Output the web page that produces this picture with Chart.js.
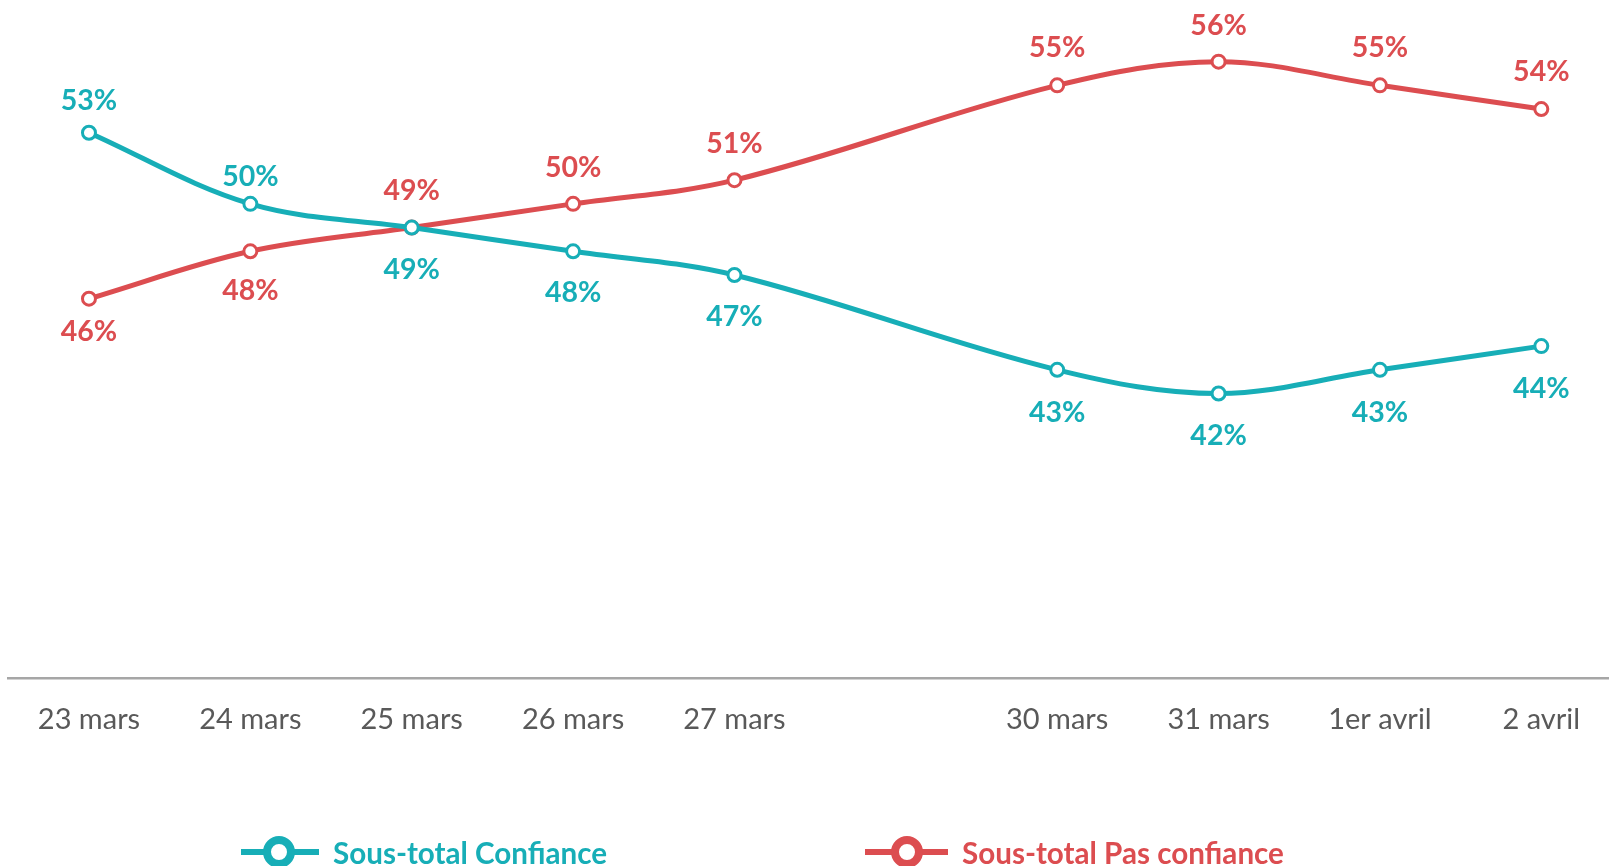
<!DOCTYPE html>
<html>
<head>
<meta charset="utf-8">
<script src="https://cdn.jsdelivr.net/npm/chart.js@4/dist/chart.umd.min.js"></script>
<style>
  body { margin: 0; overflow: hidden; background: #fff; }
</style>
</head>
<body>
<canvas id="chart" width="1622" height="866"></canvas>
<script>
// dates (28/29 mars = week-end, slot kept empty)
const labels = ['23 mars', '24 mars', '25 mars', '26 mars', '27 mars', '', '30 mars', '31 mars', '1er avril', '2 avril'];
const confiance = [53, 50, 49, 48, 47, null, 43, 42, 43, 44];
const pasConfiance = [46, 48, 49, 50, 51, null, 55, 56, 55, 54];

const TEAL = '#17AEB7';
const RED = '#DC4D50';

// décalage vertical des étiquettes (px, négatif = au-dessus)
const confianceLabelDy = [-33, -28, 41, 41, 41, 0, 42, 41, 42, 42];
const pasConfianceLabelDy = [32, 39, -38, -37, -37.5, 0, -38.5, -37, -38.5, -38];

const valueLabels = {
  id: 'valueLabels',
  afterDatasetsDraw(chart) {
    const ctx = chart.ctx;
    ctx.save();
    ctx.font = 'bold 28.5px Lato';
    ctx.textAlign = 'center';
    ctx.textBaseline = 'middle';
    chart.data.datasets.forEach((ds, di) => {
      chart.getDatasetMeta(di).data.forEach((pt, i) => {
        const v = ds.data[i];
        if (v == null) return;
        ctx.fillStyle = ds.borderColor;
        ctx.fillText(v + '%', pt.x, pt.y + ds.labelDy[i] + 1);
      });
    });
    ctx.restore();
  }
};

// légende en bas (trait + rond)
const bottomLegend = {
  id: 'bottomLegend',
  afterDraw(chart) {
    const ctx = chart.ctx;
    const items = [
      { x0: 241, x1: 319, cx: 279, tx: 333 },
      { x0: 865, x1: 948, cx: 907, tx: 962 }
    ];
    const y = 852;
    ctx.save();
    chart.data.datasets.forEach((ds, i) => {
      const it = items[i];
      ctx.strokeStyle = ds.borderColor;
      ctx.lineWidth = 6;
      ctx.beginPath();
      ctx.moveTo(it.x0, y);
      ctx.lineTo(it.x1, y);
      ctx.stroke();
      ctx.beginPath();
      ctx.arc(it.cx, y, 12, 0, Math.PI * 2);
      ctx.fillStyle = '#fff';
      ctx.fill();
      ctx.lineWidth = 8;
      ctx.stroke();
      ctx.font = 'bold 29.6px Lato';
      ctx.textBaseline = 'alphabetic';
      ctx.fillStyle = ds.borderColor;
      ctx.fillText(ds.label, it.tx, 864);
    });
    ctx.restore();
  }
};

new Chart(document.getElementById('chart'), {
  type: 'line',
  data: {
    labels,
    datasets: [
      {
        label: 'Sous-total Confiance',
        data: confiance,
        labelDy: confianceLabelDy,
        borderColor: TEAL,
        backgroundColor: TEAL
      },
      {
        label: 'Sous-total Pas confiance',
        data: pasConfiance,
        labelDy: pasConfianceLabelDy,
        borderColor: RED,
        backgroundColor: RED
      }
    ].map(ds => Object.assign(ds, {
      borderWidth: 5,
      tension: 0.35,
      spanGaps: true,
      pointRadius: 6.5,
      pointBorderWidth: 3,
      pointBackgroundColor: '#fff',
      pointBorderColor: ds.borderColor,
      clip: false
    }))
  },
  options: {
    responsive: false,
    animation: false,
    layout: { padding: { left: 8.3, right: 0, top: 0, bottom: 0 }, autoPadding: false },
    plugins: { legend: { display: false }, tooltip: { enabled: false } },
    scales: {
      x: {
        offset: true,
        grid: { display: false, drawTicks: false, offset: true },
        border: { color: '#A6A6A6', width: 2.5 },
        ticks: {
          color: '#595959',
          font: { family: 'Lato', size: 29 },
          padding: 24,
          maxRotation: 0,
          autoSkip: false
        },
        afterFit(scale) { scale.height = 188; }
      },
      y: { display: false, min: 30, max: 58.6 }
    }
  },
  plugins: [valueLabels, bottomLegend]
});
</script>
</body>
</html>
